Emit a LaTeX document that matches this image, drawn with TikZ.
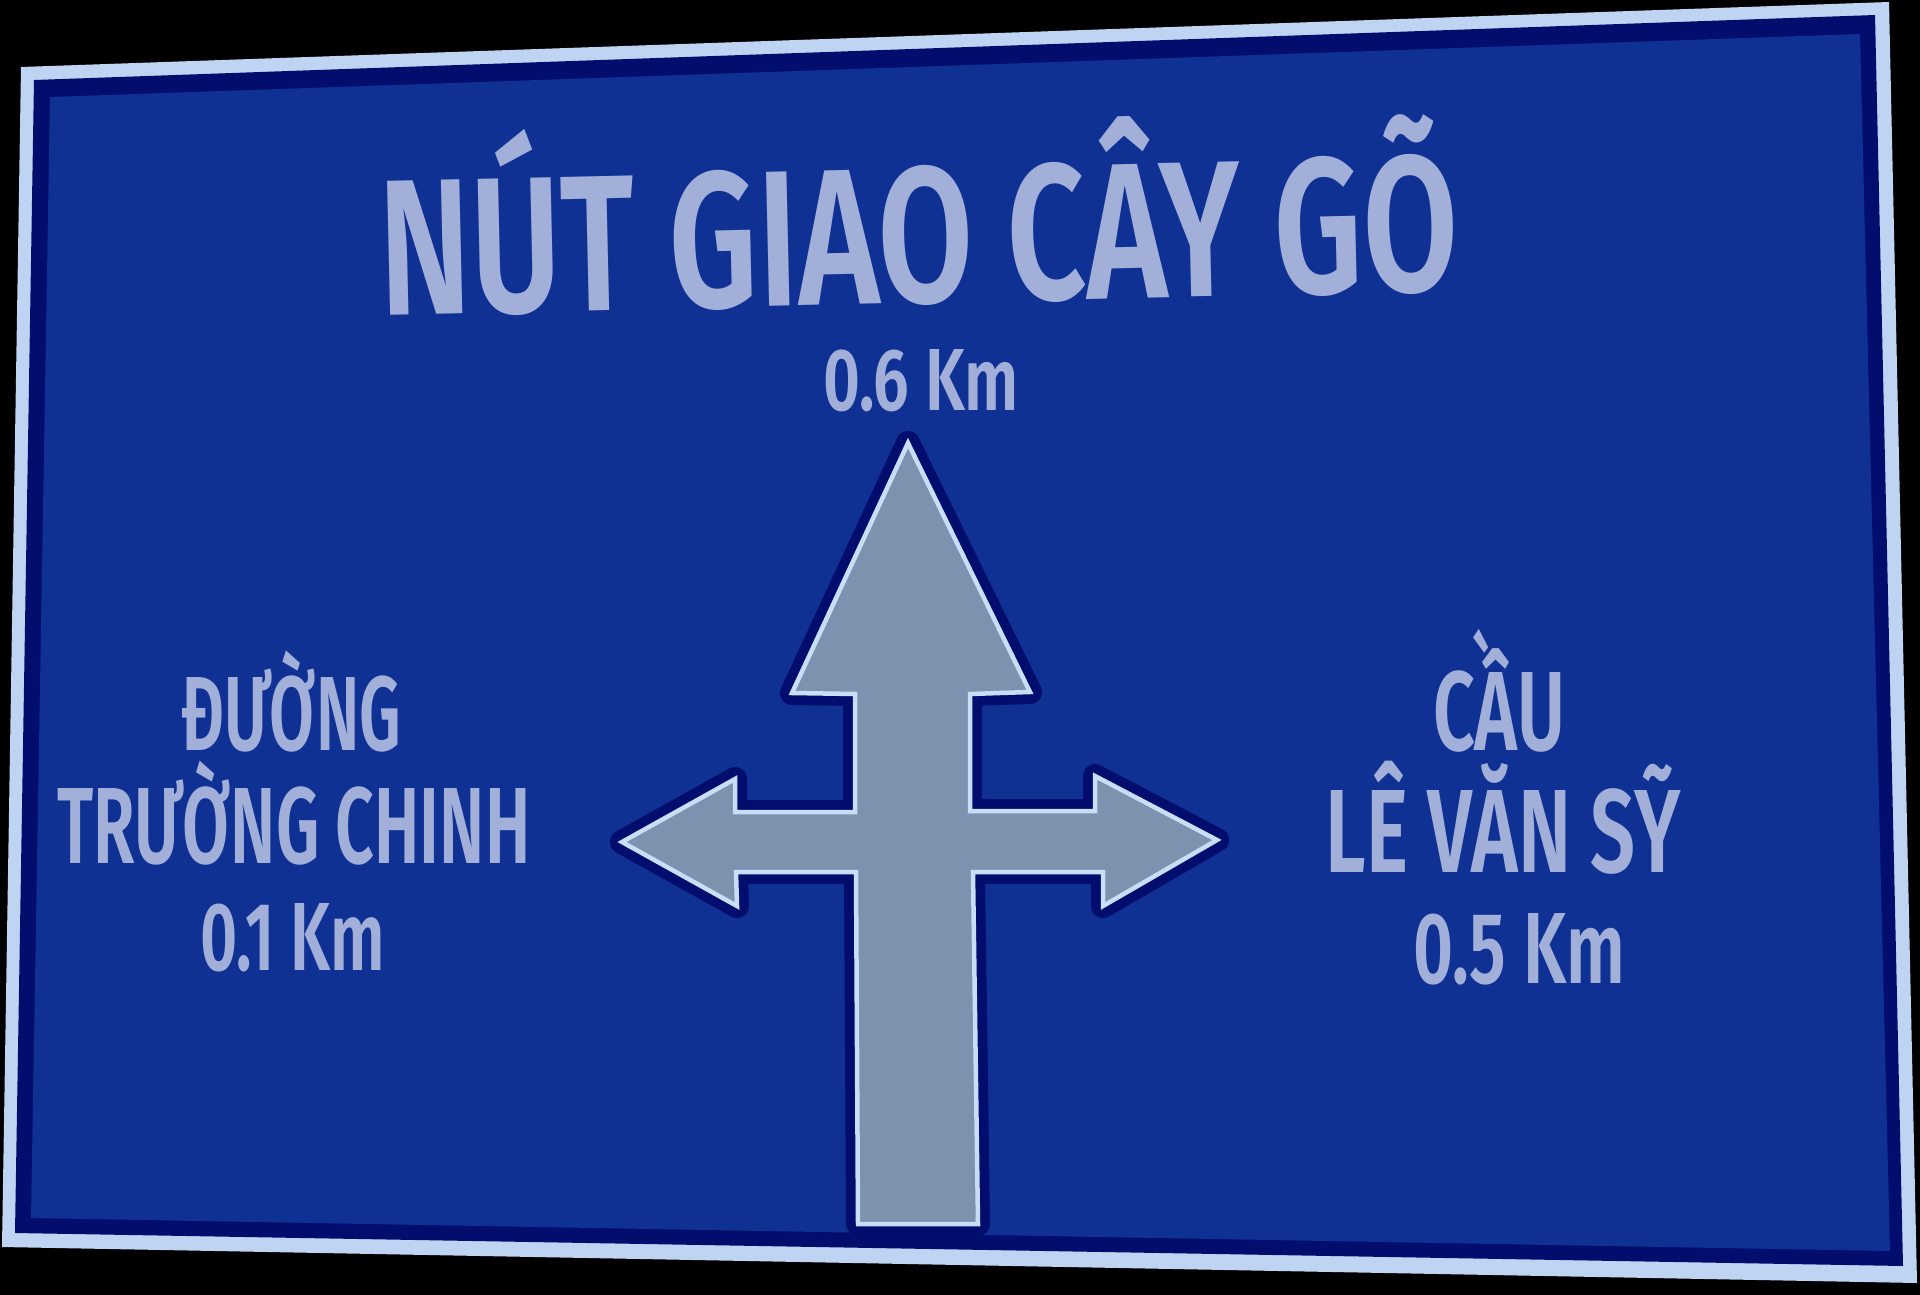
\documentclass[tikz,border=0pt]{standalone}
\usepackage{fontspec}
\usepackage{graphicx}
\newfontfamily\signfont{Fira Sans SemiBold}
\definecolor{bgblack}{HTML}{000000}
\definecolor{signwhite}{HTML}{BFD4F2}
\definecolor{signnavy}{HTML}{030D6E}
\definecolor{signblue}{HTML}{0F3194}
\definecolor{signtxt}{HTML}{A2AFD9}
\definecolor{arrowfill}{HTML}{7C92AF}
\definecolor{arrowline}{HTML}{C9DDF7}
\newsavebox\tbox
\newlength\capht
\newcommand\fittext[3]{%
  \begingroup
  \signfont\fontsize{100pt}{120pt}\selectfont
  \sbox\tbox{#3}%
  \setlength\capht{\fontcharht\font`\H}%
  \pgfmathsetmacro\xs{#1/\the\wd\tbox}%
  \pgfmathsetmacro\ys{#2/\the\capht}%
  \scalebox{\xs}[\ys]{\usebox\tbox}%
  \endgroup}
\tikzset{
  signtext/.style={inner sep=0pt, outer sep=0pt, anchor=base, text=signtxt},
  halo/.style={draw=signnavy, line width=24pt, line join=round},
  arrowbody/.style={fill=arrowfill, draw=arrowline, line width=4.5pt, line join=miter}
}
\begin{document}
\begin{tikzpicture}[x=1pt,y=-1pt]
\useasboundingbox (0,0) rectangle (1920,1295);
\fill[bgblack] (0,0) rectangle (1920,1295);
% sign plate
\fill[signwhite] (21,67) -- (1889,2) -- (1917,1283) -- (2,1247) -- cycle;
\fill[signnavy] (34,80) -- (1875,15) -- (1903,1266) -- (15,1233) -- cycle;
\fill[signblue] (50,97) -- (1860,34) -- (1890,1251) -- (31,1218) -- cycle;
% arrow
\def\arrowpath{(908,443) -- (1030,692) -- (970,694) -- (970,811) -- (1095,811) -- (1095,776) -- (1217,840) -- (1103,906) -- (1103,872) -- (973,872) -- (978,1224) -- (858,1224) -- (856,872) -- (736,872) -- (737,906) -- (622,842) -- (735,779) -- (735,812) -- (855,812) -- (855,694) -- (792,693) -- cycle}
\draw[halo] \arrowpath;
\draw[arrowbody] \arrowpath;
% texts
\node[signtext, rotate=1.3] (title) at (920,303) {\fittext{1080}{134}{NÚT GIAO CÂY GÕ}};
\node[signtext] (dtop) at (921,410) {\fittext{196}{61}{0.6 Km}};
\node[signtext] (l1) at (291,750) {\fittext{220}{73}{ĐƯỜNG}};
\node[signtext] (l2) at (294,863) {\fittext{473}{75}{TRƯỜNG CHINH}};
\node[signtext] (l3) at (293,970) {\fittext{185}{67}{0.1 Km}};
\node[signtext] (r1) at (1499,750) {\fittext{132}{78}{CẦU}};
\node[signtext] (r2) at (1503,872) {\fittext{355}{82}{LÊ VĂN SỸ}};
\node[signtext] (r3) at (1519,983) {\fittext{212}{70}{0.5 Km}};
\end{tikzpicture}
\end{document}
